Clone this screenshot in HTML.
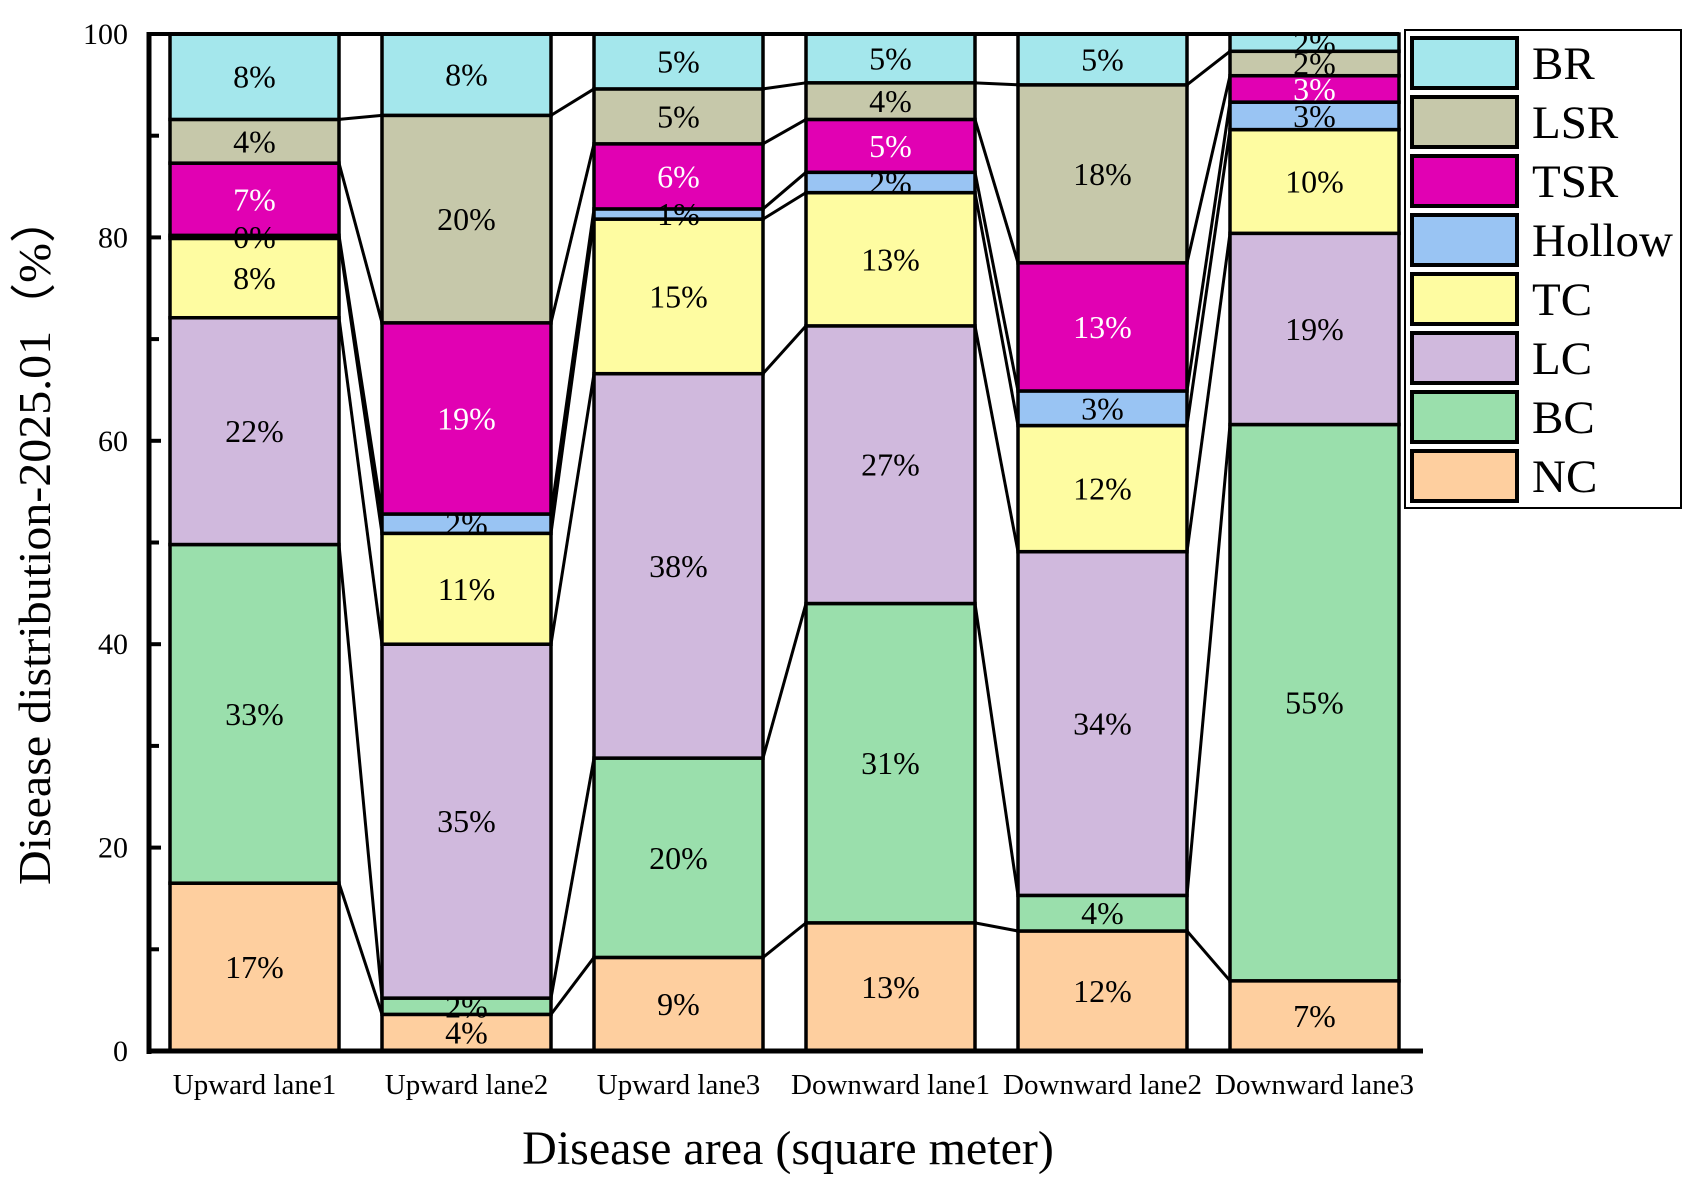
<!DOCTYPE html>
<html><head><meta charset="utf-8"><style>
html,body{margin:0;padding:0;background:#fff;}
svg{display:block;font-family:"Liberation Serif",serif;}
</style></head><body>
<svg id="chart" width="1702" height="1198" viewBox="0 0 1702 1198" xmlns="http://www.w3.org/2000/svg">
<g id="plot"></g>
<g id="axes"></g>
<g id="legend"></g>
<text x="50" y="540" transform="rotate(-90 50 540)" text-anchor="middle" font-size="46" textLength="690" lengthAdjust="spacingAndGlyphs">Disease distribution-2025.01（%）</text>
<text x="788" y="1164" text-anchor="middle" font-size="48">Disease area (square meter)</text>
</svg>
<script>
const categories = ["Upward lane1","Upward lane2","Upward lane3","Downward lane1","Downward lane2","Downward lane3"];
const seriesNames = ["NC","BC","LC","TC","Hollow","TSR","LSR","BR"];
const seriesColors = ["#fecf9f","#9adfac","#d0b9dd","#fefca1","#99c4f3","#e101b3","#c6c8aa","#a4e7ec"];
const NC = [16.5,3.6,9.2,12.6,11.8,6.9];
const BC = [33.3,1.6,19.6,31.4,3.5,54.7];
const LC = [22.3,34.8,37.8,27.3,33.8,18.8];
const TC = [7.8,10.9,15.2,13.1,12.4,10.2];
const Hollow = [0.3,1.9,1.0,2.0,3.4,2.7];
const TSR = [7.1,18.8,6.4,5.2,12.6,2.6];
const LSR = [4.3,20.4,5.4,3.6,17.5,2.4];
const BR = [8.4,8.0,5.4,4.8,5.0,1.7];
const yTicks = [0,20,40,60,80,100];
const series = [NC,BC,LC,TC,Hollow,TSR,LSR,BR];

const NS="http://www.w3.org/2000/svg";
const X0=149, Y0=1051, Y100=34, BAR0=170, STEP=212, BW=169;
const y = v => Y0 - (Y0-Y100)*v/100;
const xL = i => BAR0 + i*STEP;
function mk(tag, attrs, parent){const e=document.createElementNS(NS,tag);for(const k in attrs)e.setAttribute(k,attrs[k]);parent.appendChild(e);return e;}
const plot=document.getElementById('plot'), axes=document.getElementById('axes'), legend=document.getElementById('legend');

const cum = categories.map((c,i)=>{let s=0;const a=[0];series.forEach(se=>{s+=se[i];a.push(s);});return a;});

for(let i=0;i<categories.length-1;i++){
  for(let k=1;k<=series.length;k++){
    const l=mk('line',{x1:xL(i)+BW,y1:y(cum[i][k]),x2:xL(i+1),y2:y(cum[i+1][k]),stroke:'#000','stroke-width':3},plot);
    
    
  }
}
categories.forEach((c,i)=>{
  series.forEach((se,k)=>{
    const r=mk('rect',{x:xL(i),y:y(cum[i][k+1]),width:BW,height:y(cum[i][k])-y(cum[i][k+1]),fill:seriesColors[k],stroke:'#000','stroke-width':3.5},plot);
    
    
  });
});
categories.forEach((c,i)=>{
  series.forEach((se,k)=>{
    const t=mk('text',{x:xL(i)+BW/2,y:(y(cum[i][k])+y(cum[i][k+1]))/2+11,'text-anchor':'middle','font-size':32,fill:k===5?'#fff':'#000'},plot);
    t.textContent=Math.round(se[i])+'%';
    
    
  });
});
const tl=mk('line',{x1:X0,y1:Y100,x2:xL(5)+BW,y2:Y100,stroke:'#000','stroke-width':4},axes);


const ya=mk('line',{x1:X0,y1:Y100-2,x2:X0,y2:Y0+3,stroke:'#000','stroke-width':5},axes);


const xa=mk('line',{x1:X0-2,y1:Y0,x2:1423,y2:Y0,stroke:'#000','stroke-width':5},axes);


yTicks.forEach(v=>{
  const tk=mk('line',{x1:X0,y1:y(v),x2:X0+12,y2:y(v),stroke:'#000','stroke-width':4},axes);
  
  
  const t=mk('text',{x:128,y:y(v)+10,'text-anchor':'end','font-size':30},axes);
  t.textContent=v;
  
  
});
for(let v=10;v<100;v+=20){
  const tk=mk('line',{x1:X0,y1:y(v),x2:X0+10,y2:y(v),stroke:'#000','stroke-width':4},axes);
  
  
}
categories.forEach((c,i)=>{
  const t=mk('text',{x:xL(i)+BW/2,y:1094,'text-anchor':'middle','font-size':29},axes);
  t.textContent=c;
  
  
});
const lb=mk('rect',{x:1405,y:30,width:276,height:478,fill:'#fff',stroke:'#000','stroke-width':2},legend);


for(let j=0;j<8;j++){
  const k=7-j, yy=36+j*59;
  const sw=mk('rect',{x:1412,y:yy+2,width:105,height:50,fill:seriesColors[k],stroke:'#000','stroke-width':4},legend);
  
  
  const t=mk('text',{x:1532,y:yy+43,'font-size':47},legend);
  t.textContent=seriesNames[k];
  
  
}
</script>
</body></html>
